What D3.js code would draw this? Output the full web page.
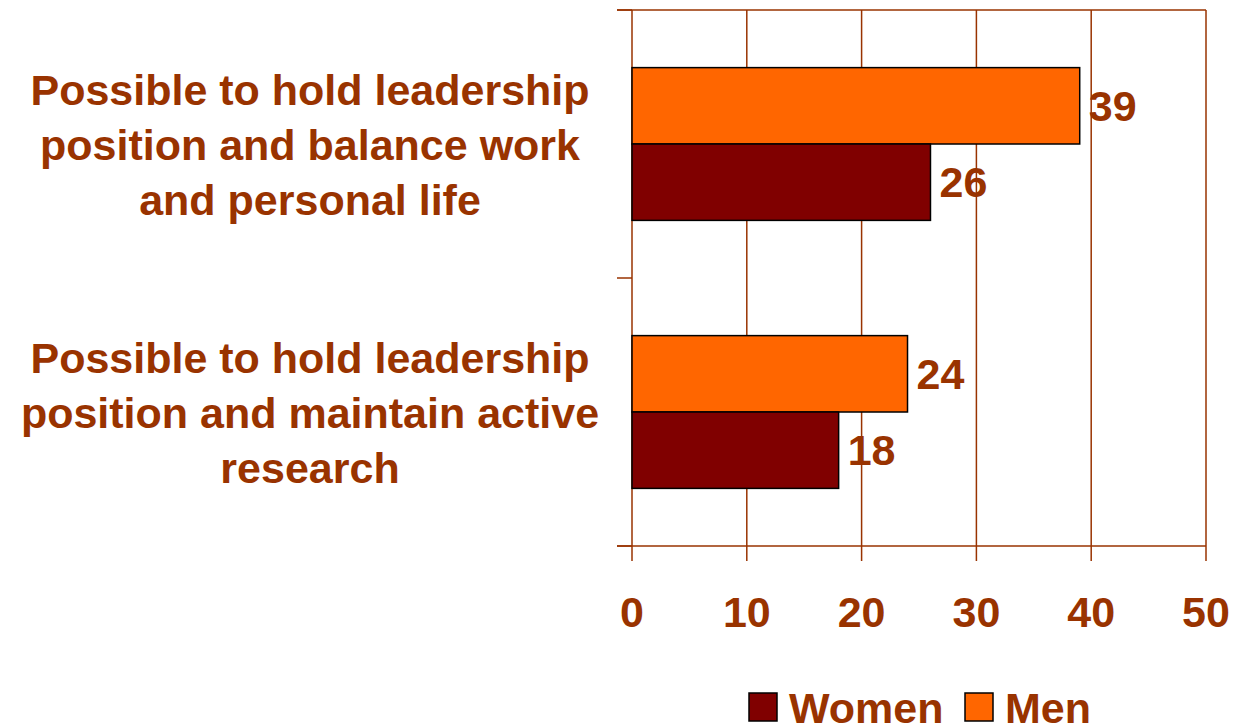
<!DOCTYPE html>
<html>
<head>
<meta charset="utf-8">
<script src="https://cdn.jsdelivr.net/npm/d3@7"></script>
<style>
  body { margin: 0; background: #fff; }
  text { font-family: "Liberation Sans", Arial, sans-serif; font-weight: bold; fill: #993300; }
</style>
</head>
<body>
<div id="plot"></div>
<script>
// chart data
const categories = [
  ["Possible to hold leadership", "position and balance work", "and personal life"],
  ["Possible to hold leadership", "position and maintain active", "research"]
];
const series = ["Men", "Women"];
const menValues = [39, 24];
const womenValues = [26, 18];
const xTicks = [0, 10, 20, 30, 40, 50];
const legendOrder = ["Women", "Men"];

const w = 1234;
const h = 725;
const colors = {Men: "#ff6600", Women: "#800000"};
const lineColor = "#993300";
const fontSize = 43;

const svg = d3.select("div#plot")
  .append("svg")
  .attr("width", w)
  .attr("height", h);

// scales
const xScale = d3.scaleLinear()
  .domain([0, 50])
  .range([632, 1206]);

const catIdx = categories.map((d, i) => i);
const yScale = d3.scaleBand()
  .domain(catIdx)
  .range([10, 546])
  .paddingInner(0.43)
  .paddingOuter(0.215);

const ySub = d3.scaleBand()
  .domain(series)
  .range([0, yScale.bandwidth()]);

// vertical gridlines
svg.append("g")
  .selectAll("line")
  .data(xTicks)
  .join("line")
  .attr("x1", d => xScale(d))
  .attr("x2", d => xScale(d))
  .attr("y1", 10)
  .attr("y2", 561)
  .attr("stroke", lineColor)
  .attr("stroke-width", 1.5);

// top border + x axis line
svg.append("line")
  .attr("x1", 617).attr("x2", xScale(50))
  .attr("y1", 10).attr("y2", 10)
  .attr("stroke", lineColor).attr("stroke-width", 1.5);

svg.append("line")
  .attr("x1", 617).attr("x2", xScale(50))
  .attr("y1", 546).attr("y2", 546)
  .attr("stroke", lineColor).attr("stroke-width", 1.5);

// left axis ticks at band boundaries
const yBounds = [10, 278, 546];
svg.append("g")
  .selectAll("line")
  .data(yBounds)
  .join("line")
  .attr("x1", 617)
  .attr("x2", xScale(0))
  .attr("y1", d => d)
  .attr("y2", d => d)
  .attr("stroke", lineColor)
  .attr("stroke-width", 1.5);

// tick labels
svg.append("g")
  .selectAll("text")
  .data(xTicks)
  .join("text")
  .attr("text-anchor", "middle")
  .attr("x", d => xScale(d))
  .attr("y", 627)
  .style("font-size", fontSize + "px")
  .text(d => d);

// bars
const rows = [];
catIdx.forEach(i => {
  rows.push({cat: i, s: "Men", v: menValues[i]});
  rows.push({cat: i, s: "Women", v: womenValues[i]});
});

svg.append("g")
  .selectAll("rect")
  .data(rows)
  .join("rect")
  .attr("x", xScale(0))
  .attr("y", d => yScale(d.cat) + ySub(d.s))
  .attr("width", d => xScale(d.v) - xScale(0))
  .attr("height", ySub.bandwidth())
  .attr("fill", d => colors[d.s])
  .attr("stroke", "#000")
  .attr("stroke-width", 1.5);

// value labels
svg.append("g")
  .selectAll("text")
  .data(rows)
  .join("text")
  .attr("x", d => xScale(d.v) + 9)
  .attr("y", d => yScale(d.cat) + ySub(d.s) + ySub.bandwidth() / 2 + 15)
  .style("font-size", fontSize + "px")
  .text(d => d.v);

// category labels
const catLabels = svg.append("g")
  .selectAll("g")
  .data(categories)
  .join("g")
  .attr("transform", (d, i) => `translate(310, ${yScale(i) + yScale.bandwidth() / 2 + 16})`);

catLabels.selectAll("text")
  .data(d => d)
  .join("text")
  .attr("text-anchor", "middle")
  .attr("y", (d, j) => (j - 1) * 55)
  .style("font-size", fontSize + "px")
  .text(d => d);

// legend
const legend = svg.append("g")
  .attr("transform", "translate(749, 693)");

const legendX = [0, 216];
legendOrder.forEach((s, i) => {
  legend.append("rect")
    .attr("x", legendX[i])
    .attr("y", 0)
    .attr("width", 28)
    .attr("height", 28)
    .attr("fill", colors[s])
    .attr("stroke", "#000")
    .attr("stroke-width", 1.5);
  legend.append("text")
    .attr("x", legendX[i] + 40)
    .attr("y", 30)
    .style("font-size", fontSize + "px")
    .text(s);
});
</script>
</body>
</html>
